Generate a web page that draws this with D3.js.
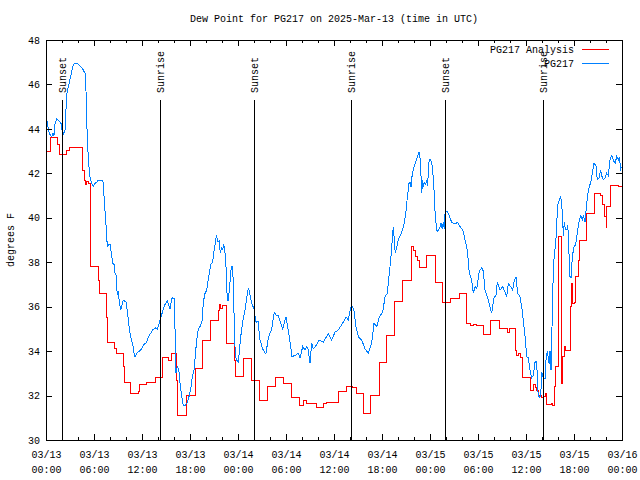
<!DOCTYPE html>
<html><head><meta charset="utf-8">
<script src="https://cdn.jsdelivr.net/npm/d3@7"></script>
<style>
body{margin:0;background:#fff}
svg{display:block}
text{font-family:"Liberation Mono","DejaVu Sans Mono",monospace;font-size:10px;fill:#000}
</style></head><body><svg id="c" width="640" height="480"></svg>
<script>
const titleText = "Dew Point for PG217 on 2025-Mar-13 (time in UTC)";
const yLabel = "degrees F";
const startTime = "2025-03-13T00:00:00Z";
const endTime = "2025-03-16T00:00:00Z";
const yTicks = [30, 32, 34, 36, 38, 40, 42, 44, 46, 48];
const seriesNames = ["PG217 Analysis", "PG217"];
const seriesColors = ["#ff0000", "#0080ff"];
const sunsetHours = [2.04, 26.04, 49.92];
const sunriseHours = [14.29, 38.17, 62.17];

// [hours since start, dew point F]
const analysis = [[0,43.0],[0.59,43.6],[1.46,43.3],[1.66,42.85],[2.59,43.05],[2.91,43.15],[4.59,42.15],[4.75,41.7],[4.91,41.5],[5.09,41.65],[5.25,41.55],[5.59,37.8],[6.54,37.2],[6.66,36.6],[7.59,35.5],[7.71,34.4],[8.5,34.1],[8.75,33.9],[9.66,33.3],[9.75,32.6],[10.5,32.1],[11.54,32.2],[11.66,32.5],[12.5,32.6],[13.63,32.8],[14.59,33.7],[15.29,33.6],[15.71,33.9],[16.25,32.7],[16.46,31.1],[17.5,32.0],[18.63,33.2],[19.54,34.5],[20.59,35.4],[21.54,35.85],[21.71,36.1],[21.84,35.9],[22.0,36.05],[22.59,34.35],[23.5,33.6],[23.63,32.85],[24.66,33.65],[25.71,32.7],[26.66,31.8],[27.66,32.4],[28.71,32.8],[29.66,32.55],[30.71,31.9],[31.66,31.55],[32.16,31.8],[32.59,31.65],[33.75,31.45],[34.66,31.65],[35.09,31.7],[36.54,32.2],[37.5,32.4],[38.34,32.35],[38.75,32.1],[39.66,31.2],[40.59,32.0],[41.66,33.5],[42.59,34.7],[43.54,36.25],[44.59,37.2],[45.63,38.7],[45.91,38.55],[46.21,38.25],[46.38,38.1],[46.66,37.75],[47.59,38.3],[48.63,37.1],[49.59,36.2],[50.59,36.35],[51.66,36.6],[52.59,35.25],[53.0,35.15],[53.38,35.2],[53.75,35.15],[54.66,34.75],[55.59,35.4],[56.63,35.0],[57.66,34.85],[57.91,35.0],[58.63,34.05],[58.84,33.8],[59.04,33.9],[59.34,33.7],[59.59,32.8],[60.59,32.25],[60.91,32.5],[61.13,32.35],[61.34,32.25],[61.54,32.0],[61.96,31.9],[62.16,31.95],[62.38,32.1],[62.59,31.6],[63.13,31.65],[63.34,31.55],[63.5,32.4],[63.63,33.3],[64.04,39.15],[64.46,32.55],[64.59,33.75],[64.79,34.2],[64.96,34.05],[65.5,36.0],[65.71,37.05],[65.79,36.15],[66.0,36.2],[66.13,37.35],[66.54,38.1],[66.66,39.0],[67.5,40.2],[68.5,41.1],[69.34,41.0],[69.59,40.6],[69.84,40.05],[70.0,39.55],[70.09,40.5],[70.5,41.45],[71.54,41.4],[72,41.4]];

const observed = [[0.09,44.4],[0.25,44.1],[0.41,43.8],[0.71,43.65],[0.88,43.8],[1.0,43.7],[1.13,44.25],[1.34,44.45],[1.54,44.4],[1.75,44.3],[1.96,44.2],[2.04,43.75],[2.16,43.75],[2.38,43.95],[2.5,44.9],[2.66,45.8],[2.79,45.85],[2.91,46.1],[3.09,46.35],[3.29,46.7],[3.41,46.9],[3.63,46.95],[3.91,46.95],[4.16,46.85],[4.46,46.75],[4.66,46.65],[4.88,46.5],[5.0,45.7],[5.09,44.3],[5.21,43.25],[5.34,42.4],[5.5,41.85],[5.71,41.55],[5.91,41.4],[6.13,41.55],[6.34,41.6],[6.54,41.7],[6.75,41.65],[6.96,41.7],[7.16,41.6],[7.25,41.0],[7.38,40.3],[7.59,39.2],[7.66,38.7],[7.84,38.8],[8.0,38.8],[8.09,38.6],[8.34,37.95],[8.5,37.9],[8.63,37.5],[8.75,37.45],[8.84,36.75],[8.96,36.6],[9.04,36.7],[9.16,36.2],[9.34,35.85],[9.46,36.0],[9.66,36.3],[10.0,36.2],[10.16,35.8],[10.29,35.4],[10.41,35.0],[10.59,34.65],[10.84,34.3],[11.04,33.8],[11.13,33.75],[11.34,33.9],[11.66,34.0],[11.96,34.1],[12.25,34.3],[12.59,34.4],[12.79,34.65],[13.09,34.8],[13.34,34.95],[13.63,35.05],[13.91,35.0],[14.16,35.25],[14.34,35.5],[14.59,35.8],[14.88,36.1],[15.16,36.25],[15.29,36.15],[15.5,35.9],[15.71,36.35],[15.84,36.4],[16.04,36.35],[16.16,34.5],[16.25,33.0],[16.41,33.3],[16.59,33.2],[16.75,32.55],[16.96,32.0],[17.16,31.55],[17.38,31.55],[17.59,31.65],[17.71,31.75],[17.91,32.0],[18.13,32.4],[18.29,32.85],[18.5,33.15],[18.71,34.0],[18.84,34.5],[19.04,35.0],[19.25,35.1],[19.54,35.4],[19.66,36.2],[19.88,36.6],[20.09,36.75],[20.29,37.25],[20.59,37.9],[20.84,38.0],[20.96,38.4],[21.16,38.85],[21.29,39.2],[21.5,38.9],[21.66,38.95],[21.79,38.4],[21.96,38.7],[22.09,38.55],[22.21,38.8],[22.34,38.6],[22.5,37.8],[22.66,36.3],[22.75,36.25],[22.91,36.7],[23.04,37.25],[23.16,37.8],[23.34,37.8],[23.54,35.25],[23.66,33.8],[23.84,33.6],[24.04,33.5],[24.34,34.65],[24.63,35.4],[24.88,35.85],[25.13,36.5],[25.29,36.85],[25.41,36.7],[25.71,36.15],[26.0,35.9],[26.25,35.3],[26.5,35.35],[26.75,34.5],[27.09,34.1],[27.38,33.9],[27.5,33.9],[27.79,34.6],[28.21,35.0],[28.54,35.75],[28.79,35.6],[29.04,35.6],[29.31,35.3],[29.59,35.0],[30.0,35.55],[30.41,34.65],[30.75,33.75],[31.09,33.8],[31.34,33.85],[31.54,33.9],[31.75,33.7],[32.09,34.2],[32.38,34.05],[32.59,34.2],[32.75,34.1],[33.0,33.45],[33.21,34.35],[33.41,34.1],[33.75,34.25],[34.16,34.5],[34.66,34.4],[35.29,34.8],[35.71,34.5],[36.13,34.85],[36.54,34.95],[37.16,35.3],[37.5,35.55],[37.79,35.4],[38.09,35.95],[38.34,36.0],[38.5,35.8],[38.75,35.1],[39.04,34.65],[39.46,34.5],[39.88,34.1],[40.29,33.9],[40.71,34.35],[41.0,35.25],[41.34,35.1],[41.66,35.55],[42.09,35.75],[42.38,36.45],[42.66,36.6],[42.91,37.5],[43.09,38.1],[43.34,39.3],[43.41,39.6],[43.66,38.4],[44.04,39.0],[44.46,39.35],[44.79,39.75],[45.0,40.3],[45.16,40.9],[45.38,41.55],[45.5,41.6],[45.63,41.4],[45.79,42.0],[46.0,42.3],[46.21,42.5],[46.41,42.75],[46.63,42.95],[46.75,42.7],[46.88,41.85],[46.96,41.1],[47.09,41.7],[47.16,41.4],[47.29,41.6],[47.46,41.5],[47.63,41.7],[47.71,41.45],[47.84,42.45],[48.0,42.65],[48.21,42.5],[48.34,42.15],[48.5,41.25],[48.66,40.05],[48.84,39.45],[48.96,39.4],[49.13,39.5],[49.25,39.6],[49.38,39.75],[49.54,39.5],[49.66,39.8],[49.79,39.5],[49.88,40.2],[50.09,40.3],[50.29,40.2],[50.5,40.0],[50.71,39.8],[50.91,39.75],[51.25,39.75],[51.46,39.8],[51.66,39.65],[51.96,39.5],[52.16,39.4],[52.38,39.0],[52.59,38.7],[52.75,38.2],[52.91,37.5],[53.21,37.2],[53.41,36.6],[53.63,36.9],[53.84,36.8],[54.16,37.6],[54.46,37.75],[54.66,37.6],[54.88,36.75],[55.09,36.5],[55.29,36.3],[55.5,36.0],[55.71,35.7],[56.0,36.4],[56.25,36.5],[56.41,37.1],[56.75,36.75],[57.09,36.9],[57.38,36.65],[57.59,36.45],[57.79,37.05],[58.09,36.9],[58.34,36.75],[58.5,37.1],[58.75,37.35],[58.96,36.6],[59.25,36.45],[59.46,36.0],[59.66,35.4],[59.88,34.65],[60.09,33.75],[60.29,33.7],[60.5,33.15],[60.71,32.8],[60.91,32.9],[61.13,33.5],[61.34,33.55],[61.46,32.25],[61.66,31.9],[61.84,31.95],[61.96,33.05],[62.16,32.8],[62.38,32.75],[62.5,33.6],[62.66,34.0],[62.79,33.7],[62.91,33.4],[63.0,34.0],[63.13,33.15],[63.25,35.1],[63.34,36.3],[63.41,37.8],[63.63,38.6],[63.84,39.45],[63.91,40.5],[64.16,40.8],[64.34,40.95],[64.46,40.6],[64.59,39.9],[64.66,39.2],[64.79,39.8],[64.91,39.5],[65.09,39.45],[65.21,39.65],[65.34,39.0],[65.41,37.8],[65.5,37.35],[65.63,37.3],[65.79,38.25],[66.0,38.7],[66.21,38.8],[66.41,39.3],[66.66,39.9],[66.84,40.1],[67.04,39.9],[67.16,40.1],[67.38,39.8],[67.59,40.65],[67.79,41.25],[68.09,41.6],[68.34,42.1],[68.5,42.45],[68.75,42.35],[68.91,41.7],[69.13,41.8],[69.34,42.15],[69.46,41.9],[69.66,41.7],[69.88,41.8],[70.09,42.0],[70.29,41.9],[70.5,42.6],[70.71,42.8],[70.91,42.6],[71.13,42.45],[71.34,42.75],[71.54,42.6],[71.66,42.75],[71.84,42.2],[71.96,42.3]];

const svg = d3.select("#c");
const L = 46, R = 622, T = 40, B = 440;
const t0 = new Date(startTime), t1 = new Date(endTime);
const toDate = h => new Date(t0.getTime() + h * 3600e3);
const x = d3.scaleUtc().domain([t0, t1]).range([L, R]);
const y = d3.scaleLinear().domain([30, 48]).range([B, T]);

svg.append("rect").attr("width", 640).attr("height", 480).attr("fill", "#fff");

// data
const lineStep = d3.line().x(d => x(toDate(d[0]))).y(d => y(d[1])).curve(d3.curveStepAfter);
const lineLin = d3.line().x(d => x(toDate(d[0]))).y(d => y(d[1]));
svg.append("path").datum(analysis).attr("d", lineStep).attr("fill", "none")
  .attr("stroke", seriesColors[0]).attr("stroke-width", 1).attr("shape-rendering", "crispEdges");
svg.append("path").datum(observed).attr("d", lineLin).attr("fill", "none")
  .attr("stroke", seriesColors[1]).attr("stroke-width", 1).attr("shape-rendering", "crispEdges");

// sunrise / sunset markers
const topFrac = y.invert(B - 0.85 * (B - T));
const sunEvents = sunsetHours.map(h => ({h, label: "Sunset"}))
  .concat(sunriseHours.map(h => ({h, label: "Sunrise"})));
sunEvents.forEach(ev => {
  const xp = Math.round(x(toDate(ev.h))) + 0.5;
  svg.append("line").attr("x1", xp).attr("x2", xp).attr("y1", y(30)).attr("y2", y(topFrac))
    .attr("stroke", "#000").attr("stroke-width", 1);
  svg.append("text").attr("transform", `translate(${xp},${y(topFrac) - 7}) rotate(-90)`)
    .attr("dy", "0.35em").attr("text-anchor", "start").text(ev.label);
});

// axes
const fmtD = d3.utcFormat("%m/%d"), fmtT = d3.utcFormat("%H:%M");
function clean(g){ g.select(".domain").remove(); g.selectAll("line").attr("stroke","#000").attr("shape-rendering","crispEdges"); g.attr("font-family", null).attr("font-size", null); }

svg.append("g").attr("transform", `translate(0,${B})`)
  .call(d3.axisBottom(x).ticks(d3.utcHour.every(2)).tickSize(-3).tickFormat("")).call(clean);
svg.append("g").attr("transform", `translate(0,${T})`)
  .call(d3.axisTop(x).ticks(d3.utcHour.every(2)).tickSize(-3).tickFormat("")).call(clean);
svg.append("g").attr("transform", `translate(0,${T})`)
  .call(d3.axisTop(x).ticks(d3.utcHour.every(6)).tickSize(-6).tickFormat("")).call(clean);
const gx = svg.append("g").attr("transform", `translate(0,${B})`)
  .call(d3.axisBottom(x).ticks(d3.utcHour.every(6)).tickSize(-6).tickPadding(11).tickFormat(d => fmtD(d)))
  .call(clean);
gx.selectAll(".tick text").each(function(d){
  const t = d3.select(this); t.text(null);
  t.append("tspan").attr("x", 0).text(fmtD(d));
  t.append("tspan").attr("x", 0).attr("dy", 15).text(fmtT(d));
});
svg.append("g").attr("transform", `translate(${L},0)`)
  .call(d3.axisLeft(y).tickValues(yTicks).tickSize(-6).tickPadding(6).tickFormat(d3.format("d"))).call(clean);
svg.append("g").attr("transform", `translate(${R},0)`)
  .call(d3.axisRight(y).tickValues(yTicks).tickSize(-6).tickFormat("")).call(clean);

svg.append("rect").attr("x", L + 0.5).attr("y", T + 0.5).attr("width", R - L).attr("height", B - T)
  .attr("fill", "none").attr("stroke", "#000").attr("shape-rendering", "crispEdges");

// title & labels
svg.append("text").attr("x", (L + R) / 2).attr("y", 22).attr("text-anchor", "middle").text(titleText);
svg.append("text").attr("transform", `translate(10,${(T + B) / 2}) rotate(-90)`)
  .attr("dy", "0.35em").attr("text-anchor", "middle").text(yLabel);

// legend
const legend = svg.append("g").attr("class", "legend");
seriesNames.forEach((n, i) => {
  const ly = 49 + i * 14;
  legend.append("text").attr("x", 574).attr("y", ly).attr("dy", "0.35em").attr("text-anchor", "end").text(n);
  legend.append("path").attr("d", `M582,${ly + 0.5}H609`).attr("fill", "none")
    .style("stroke", seriesColors[i]).style("stroke-width", "1px");
});
</script></body></html>
